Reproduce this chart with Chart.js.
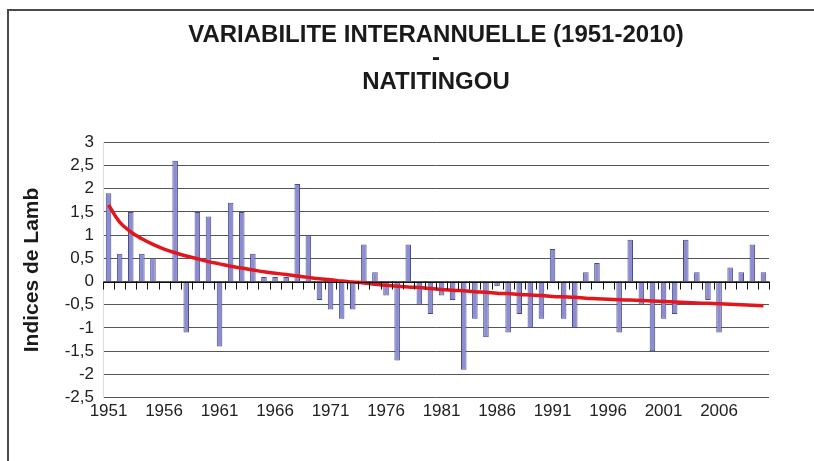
<!DOCTYPE html>
<html>
<head>
<meta charset="utf-8">
<script src="https://cdn.jsdelivr.net/npm/chart.js@4"></script>
<style>
  html, body { margin: 0; padding: 0; background: #fff; }
  #wrap { width: 814px; height: 461px; }
</style>
</head>
<body>
<div id="wrap"><canvas id="chart" width="814" height="461"></canvas></div>
<script>
// Years 1951-2010
const years = [];
for (let y = 1951; y <= 2010; y++) years.push(String(y));

// Lamb index per year
const lambValues = [
    1.9, 0.6, 1.5, 0.6, 0.5, 0, 2.6, -1.1, 1.5, 1.4,
    -1.4, 1.7, 1.5, 0.6, 0.1, 0.1, 0.1, 2.1, 1.0, -0.4,
    -0.6, -0.8, -0.6, 0.8, 0.2, -0.3, -1.7, 0.8, -0.5, -0.7,
    -0.3, -0.4, -1.9, -0.8, -1.2, -0.1, -1.1, -0.7, -1.0, -0.8,
    0.7, -0.8, -1.0, 0.2, 0.4, 0, -1.1, 0.9, -0.5, -1.5,
    -0.8, -0.7, 0.9, 0.2, -0.4, -1.1, 0.3, 0.2, 0.8, 0.2
];

// Red trend curve
const trendValues = [
    1.65, 1.28, 1.07, 0.92, 0.80, 0.70, 0.62, 0.55, 0.49, 0.43,
    0.38, 0.33, 0.29, 0.25, 0.21, 0.18, 0.15, 0.12, 0.09, 0.06,
    0.04, 0.01, -0.01, -0.03, -0.06, -0.08, -0.10, -0.12, -0.13, -0.15,
    -0.17, -0.19, -0.20, -0.22, -0.23, -0.25, -0.26, -0.28, -0.29, -0.30,
    -0.32, -0.33, -0.34, -0.36, -0.37, -0.38, -0.39, -0.40, -0.41, -0.42,
    -0.43, -0.44, -0.45, -0.46, -0.47, -0.48, -0.49, -0.50, -0.51, -0.52
];

const titleLines = ['VARIABILITE INTERANNUELLE (1951-2010)', '-', 'NATITINGOU'];

const FONT = '"Liberation Sans", Arial, Helvetica, sans-serif';

// Outer frame (top and left edge)
const framePlugin = {
    id: 'frame',
    beforeDraw(chart) {
        const ctx = chart.ctx;
        ctx.save();
        ctx.fillStyle = '#fff';
        ctx.fillRect(0, 0, chart.width, chart.height);
        ctx.strokeStyle = '#4a4a4a';
        ctx.lineWidth = 2;
        ctx.beginPath();
        ctx.moveTo(8, chart.height);
        ctx.lineTo(8, 10);
        ctx.lineTo(chart.width, 10);
        ctx.stroke();
        ctx.restore();
    }
};

// Category axis line crossing at zero, with tick marks between years
const zeroAxisPlugin = {
    id: 'zeroAxis',
    afterDatasetsDraw(chart) {
        const ctx = chart.ctx;
        const x = chart.scales.x;
        const y0 = chart.scales.y.getPixelForValue(0);
        const step = x.getPixelForValue(1) - x.getPixelForValue(0);
        ctx.save();
        ctx.strokeStyle = '#111';
        ctx.lineWidth = 1;
        ctx.beginPath();
        ctx.moveTo(x.left, Math.round(y0) + 0.5);
        ctx.lineTo(x.right, Math.round(y0) + 0.5);
        for (let i = 0; i <= years.length; i++) {
            const px = Math.round(x.getPixelForValue(0) - step / 2 + i * step) + 0.5;
            ctx.moveTo(px, y0);
            ctx.lineTo(px, y0 + 8);
        }
        ctx.stroke();
        ctx.restore();
    }
};

const ctx = document.getElementById('chart').getContext('2d');
new Chart(ctx, {
    data: {
        labels: years,
        datasets: [
            {
                type: 'line',
                data: trendValues,
                borderColor: '#e3161d',
                borderWidth: 3.5,
                pointRadius: 0,
                tension: 0.4,
                order: 0
            },
            {
                type: 'bar',
                data: lambValues,
                backgroundColor: '#8c8cd0',
                borderColor: '#4b4b8f',
                borderWidth: 1,
                barPercentage: 0.5,
                categoryPercentage: 1,
                order: 1
            }
        ]
    },
    options: {
        responsive: false,
        animation: false,
        layout: { padding: { left: 0, right: 45, top: 0, bottom: 35 } },
        plugins: {
            legend: { display: false },
            tooltip: { enabled: false },
            title: {
                display: true,
                fullSize: false,
                text: titleLines,
                color: '#1a1a1a',
                font: { family: FONT, size: 24, weight: 'bold', lineHeight: 0.99 },
                padding: { top: 23, bottom: 48 }
            }
        },
        scales: {
            x: {
                type: 'category',
                offset: true,
                grid: { display: false, drawTicks: false },
                border: { display: false },
                ticks: {
                    autoSkip: false,
                    maxRotation: 0,
                    padding: 4,
                    color: '#222',
                    font: { family: FONT, size: 17 },
                    callback: (v, i) => (i % 5 === 0 ? years[i] : '')
                }
            },
            y: {
                min: -2.5,
                max: 3,
                afterFit: s => { s.width = 103; },
                grid: { color: '#555', lineWidth: 1, drawTicks: false },
                border: { display: true, color: '#ddd' },
                ticks: {
                    stepSize: 0.5,
                    autoSkip: false,
                    padding: 9,
                    color: '#222',
                    font: { family: FONT, size: 17 },
                    callback: v => String(v).replace('.', ',')
                },
                title: {
                    display: true,
                    text: 'Indices de Lamb',
                    color: '#1a1a1a',
                    font: { family: FONT, size: 21, weight: 'bold' },
                    padding: { top: 20, bottom: 0 }
                }
            }
        }
    },
    plugins: [framePlugin, zeroAxisPlugin]
});
</script>
</body>
</html>
